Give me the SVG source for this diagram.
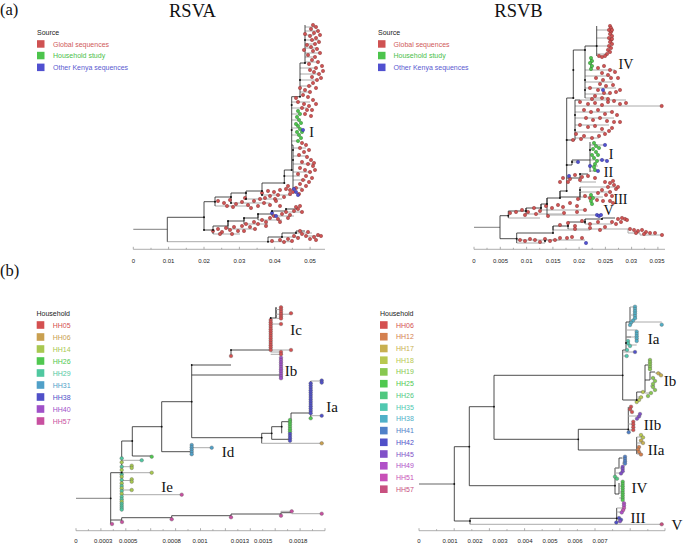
<svg xmlns="http://www.w3.org/2000/svg" width="685" height="543" viewBox="0 0 685 543">
<style>
.bg{fill:#fff}
.tt{font-family:"Liberation Serif","Times New Roman",serif;fill:#111}
.lg{font-family:"Liberation Sans",Arial,sans-serif;font-size:7px}
.ax{font-family:"Liberation Sans",Arial,sans-serif;font-size:6px;fill:#222;text-anchor:middle}
.axl{stroke:#999;stroke-width:0.8;fill:none}
.t{stroke:#222;stroke-width:0.8;fill:none}
.g{stroke:#aaa;stroke-width:1;fill:none}
.rt{stroke:#999;stroke-width:1.3;fill:none}
.n{fill:#111}
.R{fill:#cf5252;stroke:#7a2c2c;stroke-width:0.4}
.G{fill:#4cc44c;stroke:#2a702a;stroke-width:0.4}
.B{fill:#5050d0;stroke:#2a2a80;stroke-width:0.4}
.h05,.b06{fill:#d45050}.h06{fill:#c9a050}.h14{fill:#a8c850}.h26,.b25{fill:#50c850}.h29{fill:#50c8a0}.h31{fill:#50a0c8}.h38,.b42{fill:#5050c8}.h40{fill:#a050c8}.h57{fill:#c850a0}
.b12{fill:#d4804f}.b17{fill:#c8b050}.b18{fill:#b8c850}.b19{fill:#88c850}.b26{fill:#50c880}.b35{fill:#50c8b0}.b38{fill:#50b0c8}.b41{fill:#5080c8}.b45{fill:#8050c8}.b49{fill:#b050c8}.b51{fill:#c850b8}.b57{fill:#c85080}
.d circle{stroke:#555;stroke-width:0.35}
</style>
<rect class="bg" width="685" height="543"/>

<g id="titles">
<text class="tt" x="0" y="15" font-size="16.5">(a)</text>
<text class="tt" x="192.5" y="17" font-size="18.5" text-anchor="middle">RSVA</text>
<text class="tt" x="518.5" y="17" font-size="18.5" text-anchor="middle">RSVB</text>
<text class="tt" x="0" y="276" font-size="16.5">(b)</text>
</g>

<g id="legend-a-left" class="lg">
<text x="37" y="34.5" fill="#222">Source</text>
<rect x="37" y="40.2" width="7.5" height="7.5" fill="#cf5252"/><text x="53" y="46.5" fill="#d05a5a">Global sequences</text>
<rect x="37" y="51.8" width="7.5" height="7.5" fill="#4cc44c"/><text x="53" y="58.3" fill="#4ac04a">Household study</text>
<rect x="37" y="63.6" width="7.5" height="7.5" fill="#5050d0"/><text x="53" y="70" fill="#5a5ad0">Other Kenya sequences</text>
</g>
<g id="legend-a-right" class="lg">
<text x="378" y="34.5" fill="#222">Source</text>
<rect x="378" y="40.2" width="7.5" height="7.5" fill="#cf5252"/><text x="393.5" y="46.5" fill="#d05a5a">Global sequences</text>
<rect x="378" y="51.8" width="7.5" height="7.5" fill="#4cc44c"/><text x="393.5" y="58.3" fill="#4ac04a">Household study</text>
<rect x="378" y="63.6" width="7.5" height="7.5" fill="#5050d0"/><text x="393.5" y="70" fill="#5a5ad0">Other Kenya sequences</text>
</g>
<g id="legend-b-left" class="lg">
<text x="36.5" y="315.8" fill="#222">Household</text>
<rect x="36.7" y="321.2" width="7.6" height="7.6" class="h05"/><text x="52.7" y="327.5" class="h05">HH05</text>
<rect x="36.7" y="333.2" width="7.6" height="7.6" class="h06"/><text x="52.7" y="339.5" class="h06">HH06</text>
<rect x="36.7" y="345.2" width="7.6" height="7.6" class="h14"/><text x="52.7" y="351.5" class="h14">HH14</text>
<rect x="36.7" y="357.2" width="7.6" height="7.6" class="h26"/><text x="52.7" y="363.5" class="h26">HH26</text>
<rect x="36.7" y="369.2" width="7.6" height="7.6" class="h29"/><text x="52.7" y="375.5" class="h29">HH29</text>
<rect x="36.7" y="381.2" width="7.6" height="7.6" class="h31"/><text x="52.7" y="387.5" class="h31">HH31</text>
<rect x="36.7" y="393.2" width="7.6" height="7.6" class="h38"/><text x="52.7" y="399.5" class="h38">HH38</text>
<rect x="36.7" y="405.2" width="7.6" height="7.6" class="h40"/><text x="52.7" y="411.5" class="h40">HH40</text>
<rect x="36.7" y="417.2" width="7.6" height="7.6" class="h57"/><text x="52.7" y="423.5" class="h57">HH57</text>
</g>
<g id="legend-b-right" class="lg">
<text x="380" y="315.8" fill="#222">Household</text>
<rect x="380" y="321.2" width="7.6" height="7.6" class="b06"/><text x="396" y="327.5" class="b06">HH06</text>
<rect x="380" y="332.9" width="7.6" height="7.6" class="b12"/><text x="396" y="339.2" class="b12">HH12</text>
<rect x="380" y="344.7" width="7.6" height="7.6" class="b17"/><text x="396" y="351" class="b17">HH17</text>
<rect x="380" y="356.4" width="7.6" height="7.6" class="b18"/><text x="396" y="362.7" class="b18">HH18</text>
<rect x="380" y="368.1" width="7.6" height="7.6" class="b19"/><text x="396" y="374.4" class="b19">HH19</text>
<rect x="380" y="379.9" width="7.6" height="7.6" class="b25"/><text x="396" y="386.2" class="b25">HH25</text>
<rect x="380" y="391.6" width="7.6" height="7.6" class="b26"/><text x="396" y="397.9" class="b26">HH26</text>
<rect x="380" y="403.3" width="7.6" height="7.6" class="b35"/><text x="396" y="409.6" class="b35">HH35</text>
<rect x="380" y="415.0" width="7.6" height="7.6" class="b38"/><text x="396" y="421.3" class="b38">HH38</text>
<rect x="380" y="426.8" width="7.6" height="7.6" class="b41"/><text x="396" y="433.1" class="b41">HH41</text>
<rect x="380" y="438.5" width="7.6" height="7.6" class="b42"/><text x="396" y="444.8" class="b42">HH42</text>
<rect x="380" y="450.2" width="7.6" height="7.6" class="b45"/><text x="396" y="456.5" class="b45">HH45</text>
<rect x="380" y="462.0" width="7.6" height="7.6" class="b49"/><text x="396" y="468.3" class="b49">HH49</text>
<rect x="380" y="473.7" width="7.6" height="7.6" class="b51"/><text x="396" y="480" class="b51">HH51</text>
<rect x="380" y="485.4" width="7.6" height="7.6" class="b57"/><text x="396" y="491.7" class="b57">HH57</text>
</g>

<g id="axis-a-left">
<path class="axl" d="M133.3,249.3 H325 M133.3,249.3 v-2.5 M151,249.3 v-1.5 M168.6,249.3 v-2.5 M186.3,249.3 v-1.5 M204,249.3 v-2.5 M221.7,249.3 v-1.5 M239.4,249.3 v-2.5 M257.1,249.3 v-1.5 M274.7,249.3 v-2.5 M292.4,249.3 v-1.5 M310.1,249.3 v-2.5"/>
<text class="ax" x="133.3" y="263">0</text><text class="ax" x="168.6" y="263">0.01</text><text class="ax" x="204" y="263">0.02</text><text class="ax" x="239.4" y="263">0.03</text><text class="ax" x="274.8" y="263">0.04</text><text class="ax" x="310.1" y="263">0.05</text>
</g>
<g id="axis-a-right">
<path class="axl" d="M474,249.3 H665 M474,249.3 v-2.5 M487,249.3 v-1.5 M500.3,249.3 v-2.5 M513.4,249.3 v-1.5 M526.6,249.3 v-2.5 M539.7,249.3 v-1.5 M552.9,249.3 v-2.5 M566,249.3 v-1.5 M579.1,249.3 v-2.5 M592.2,249.3 v-1.5 M605.4,249.3 v-2.5 M618.5,249.3 v-1.5 M631.6,249.3 v-2.5 M644.7,249.3 v-1.5 M657.9,249.3 v-2.5"/>
<text class="ax" x="474" y="263">0</text><text class="ax" x="500.5" y="263">0.005</text><text class="ax" x="526.7" y="263">0.01</text><text class="ax" x="553.2" y="263">0.015</text><text class="ax" x="579.2" y="263">0.02</text><text class="ax" x="605.6" y="263">0.025</text><text class="ax" x="631.3" y="263">0.03</text><text class="ax" x="657" y="263">0.035</text>
</g>
<g id="axis-b-left">
<path class="axl" d="M76,530.7 H325 M76,530.7 v-2.5 M88.4,530.7 v-1.5 M100.9,530.7 v-2.5 M113.3,530.7 v-1.5 M125.8,530.7 v-2.5 M138.2,530.7 v-1.5 M150.7,530.7 v-2.5 M163.1,530.7 v-1.5 M175.6,530.7 v-2.5 M188,530.7 v-1.5 M200.5,530.7 v-2.5 M212.9,530.7 v-1.5 M225.4,530.7 v-2.5 M237.8,530.7 v-1.5 M250.3,530.7 v-2.5 M262.7,530.7 v-1.5 M275.2,530.7 v-2.5 M287.6,530.7 v-1.5 M300.1,530.7 v-2.5 M312.5,530.7 v-1.5 M325,530.7 v-2.5"/>
<text class="ax" x="76" y="542.5">0</text><text class="ax" x="103.3" y="542.5">0.0003</text><text class="ax" x="128.3" y="542.5">0.0005</text><text class="ax" x="171.7" y="542.5">0.0008</text><text class="ax" x="200" y="542.5">0.001</text><text class="ax" x="240" y="542.5">0.0013</text><text class="ax" x="263.3" y="542.5">0.0015</text><text class="ax" x="298.3" y="542.5">0.0018</text>
</g>
<g id="axis-b-right">
<path class="axl" d="M419,530.7 H665 M419,530.7 v-2.5 M436.6,530.7 v-1.5 M454.2,530.7 v-2.5 M471.8,530.7 v-1.5 M489.4,530.7 v-2.5 M507,530.7 v-1.5 M524.6,530.7 v-2.5 M542.2,530.7 v-1.5 M559.8,530.7 v-2.5 M577.4,530.7 v-1.5 M595,530.7 v-2.5 M612.6,530.7 v-1.5 M630.2,530.7 v-2.5 M647.8,530.7 v-1.5 M665,530.7 v-2.5"/>
<text class="ax" x="419" y="542.5">0</text><text class="ax" x="450" y="542.5">0.001</text><text class="ax" x="475" y="542.5">0.002</text><text class="ax" x="500" y="542.5">0.003</text><text class="ax" x="525" y="542.5">0.004</text><text class="ax" x="550" y="542.5">0.005</text><text class="ax" x="575" y="542.5">0.006</text><text class="ax" x="600" y="542.5">0.007</text>
</g>

<g id="connectors">
<path class="rt" d="M133.3,229.3 H167.3 M474,227.3 H500 M76,498.3 H110.7 M419,484 H454.3"/>
<path class="g" d="M167.3,241.7 H268 M268,241.7 H292 M282,237 H300 M296,233 H312 M305,236 H322 M213,234 H240 M228,229 H254 M244,224 H268 M258,220 H282 M272,216 H294 M286,212 H302 M215,206 H250 M231,203 H270 M246,199 H282 M262,195 H292 M284.3,176 H300 M293,188 H302 M293,180 H306 M293,172 H312 M293,164 H313 M293,156 H308 M293,148 H306 M291.7,141 H298 M291.7,135 H299 M291.7,128 H300 M291.7,120 H299 M291.7,114 H300 M291.7,108 H307 M291.7,102 H310 M300,92 H310 M300,86 H312 M300,80 H317 M300,74 H319 M300,68 H316 M305,62 H318 M305,57 H315 M305,53 H320 M305,48 H317 M305,44 H315 M305,40 H319 M305,35 H314 M305,31 H318 M305,27 H316"/>
<path class="t" d="M167.3,217.3 V241.7 M167.3,217.3 H204 M204,201.7 V230 M204,230 H213 M213,226 V234 M213,226 H228 V221 H244 V218 H258 V214 H272 V211 H286 V209 H298 M228,221 V229 M244,218 V224 M258,214 V220 M272,211 V216 M268,241.7 V237 H282 V233 H296 V231 H305 M204,201.7 H215 M215,197 V206 M215,197 H231 V193 H246 V191 H262 V183 H284.3 M231,197 V203 M246,193 V199 M262,191 V195 M284.3,170 V183 M284.3,170 H291.7 M291.7,96.7 V170 M293,145 V190 M291.7,145 H293 M291.7,96.7 H300 M300,63 V96.7 M300,63 H305 M305,25 V63"/>
<path class="g" d="M553,230 H590 M568,229 H628 V233 H640 V235 H662 M585,224 H612 M516.7,243 H545 V240 H585 M516.7,240 H560 M508.3,218 H540 M526,214 H562 M541,210 H585 M547,215 H600 M580,182 H596 M572,162 H578 M590,145 H605 M590,160 H607 M590,166 H598 M590,171 H598 M575,106 H662 M575,112 H612 M575,118 H614 M575,125 H609 M575,132 H605 M575,138 H599 M580,100 H626 M585,70 H615 M585,76 H611 M585,82 H613 M585,88 H616 M585,94 H610 M585,98 H608 M596.7,30 H611 M596.7,38 H611 M596.7,46 H611 M596.7,54 H607 M580,192 H612 M580,187 H616 M580,197 H603"/>
<path class="t" d="M500,215.7 V238.7 M500,238.7 H516.7 M516.7,233 V243 M516.7,233 H553 V226 H568 V222 H585 V219 H602 V218 H615 M553,226 V230 M568,222 V229 M585,219 V224 M500,215.7 H508.3 M508.3,211 V218 M508.3,211 H526 V208 H541 V204 H547 V198 H560 V191 H566.7 M526,208 V214 M541,204 V210 M547,198 V215 M560,191 V197 H580 V187 M580,192 V200 M566.7,98 V191 M566.7,178 H580 V174 H588 M566.7,165 H572 V160 H590 M590,142 V172 M566.7,140 H575 V100 M575,100 H580 M566.7,98 H573.3 M573.3,50 V98 M573.3,50 H585 M585,46 V98 M585,46 H596.7 M596.7,26 V56 M591,58 V68"/>
<path class="t" d="M110.7,472.7 V520 M110.7,472.7 H121.7 M121.7,441 V509.3 M121.7,441 H132.3 M132.3,426.7 V456 M132.3,426.7 H161.7 M161.7,401.7 V451.7 M161.7,401.7 H191.7 M191.7,365 V437.7 M191.7,365 H231 M231,350 V356 M231,350 H270.7 M270.7,318 V350 M270.7,318 H276 V307.3 M276,307.3 V318 M191.7,375 H281 M191.7,437.7 H261.7 M261.7,433.3 V443.3 M261.7,433.3 H271.7 M271.7,426.7 V439.3 M271.7,426.7 H281.7 M281.7,421.7 V433.3 M281.7,421.7 H291 M291,413 V421.7 M291,413 H310.7 M310.7,381 V418.3 M271.7,439.3 H290 M290,420 V441 M161.7,451.7 H191.7 M191.7,445 V454.2 M132.3,456 H151.7 M110.7,520 V524 M110.7,520 H121.7 M121.7,517.7 V522 M121.7,517.7 H171.7 M171.7,515.7 V519.3 M171.7,515.7 H231 M231,514 V517.3 M231,514 H281 M281,512.7 V515.7 M281,512.7 H291.7"/>
<path class="g" d="M276,309.6 H281 M276,314.2 H291 M276,318.3 H281 M270.7,324 H281 M270.7,350 H291 M270.7,352 H281 M270.7,354.3 H281 M281,357.3 V378 M310.7,381 H321.7 M310.7,415.7 H321.7 M261.7,443.3 H321.7 M191.7,447.7 H211.7 M121.7,460.3 H141.7 M121.7,466.7 H131.7 M121.7,472.7 H151.7 M121.7,480.5 H131.7 M121.7,490 H131.7 M121.7,494.7 H181.7 M281,512.7 V511.3 H291.7 M291.7,513.7 H321.7"/>
<path class="t" d="M454.3,446.7 V521 M454.3,446.7 H469.3 M469.3,406.7 V485.7 M469.3,406.7 H494 M494,375.3 V439.3 M494,375.3 H622.7 M622.7,350 V400 M622.7,350 H626 V322 H630 V307 M626,343 H629 M626,337 H631 M622.7,400 H636.7 M636.7,392 V402 M636.7,392 H645 V365 H648 M645,380 H650 V372 H655 M494,439.3 H578.3 M578.3,429.3 V450 M578.3,429.3 H628.3 M628.3,407 V432.3 M578.3,450 H636.7 M636.7,437 V454 M469.3,485.7 H615 M615,468 V494 M615,468 H619 V458 H622 M615,494 H619 V483 M454.3,521 H470 M470,518.3 V524.3 M470,518.3 H616.7 M616.7,508 V523"/>
<path class="g" d="M630,307 H635 M630,315 H635 M630,322 H661.7 M626,330 H636.7 M626,337 H636.7 M630,345 H636.7 M622.7,352 H635 M622.7,356 H627 M648,360 H650 M648,367 H650 M655,373 H661 M650,378 H655 M650,386 H655 M645,393 H652 M636.7,397 H643 M628.3,408 H632 M628.3,416 H640 M628.3,424 H633.3 M628.3,430 H633.3 M636.7,437 H643 M636.7,443 H643 M636.7,449 H640 M636.7,454 H641 M622,458 H625 M622,463 H625 M615,468 H622.7 M615,473 H621 M615,478 H617 M619,486 H622.7 M619,492 H622.7 M619,498 H622.7 M616.7,508 H624 M616.7,512 H621.7 M616.7,519 H621 M470,524.3 H661.7"/>
</g>

<g id="rsva-global">
<circle class="R" r="1.7" cx="313" cy="25"/><circle class="R" r="1.7" cx="316" cy="27"/><circle class="R" r="1.7" cx="311" cy="29"/><circle class="R" r="1.7" cx="318" cy="31"/><circle class="R" r="1.7" cx="314" cy="33"/><circle class="R" r="1.7" cx="310" cy="36"/><circle class="R" r="1.7" cx="316" cy="38"/><circle class="R" r="1.7" cx="312" cy="40"/><circle class="R" r="1.7" cx="319" cy="42"/><circle class="R" r="1.7" cx="315" cy="44"/><circle class="R" r="1.7" cx="311" cy="47"/><circle class="R" r="1.7" cx="317" cy="49"/><circle class="R" r="1.7" cx="313" cy="51"/><circle class="R" r="1.7" cx="320" cy="53"/><circle class="R" r="1.7" cx="308" cy="55"/><circle class="R" r="1.7" cx="315" cy="57"/><circle class="R" r="1.7" cx="312" cy="60"/><circle class="R" r="1.7" cx="318" cy="62"/><circle class="R" r="1.7" cx="322" cy="66"/><circle class="R" r="1.7" cx="316" cy="68"/><circle class="R" r="1.7" cx="310" cy="70"/><circle class="R" r="1.7" cx="314" cy="72"/><circle class="R" r="1.7" cx="319" cy="74"/><circle class="R" r="1.7" cx="321" cy="78"/><circle class="R" r="1.7" cx="317" cy="80"/><circle class="R" r="1.7" cx="313" cy="83"/><circle class="R" r="1.7" cx="309" cy="86"/><circle class="R" r="1.7" cx="316" cy="88"/><circle class="R" r="1.7" cx="305" cy="34"/><circle class="R" r="1.7" cx="307" cy="45"/><circle class="R" r="1.7" cx="309" cy="64"/><circle class="R" r="1.7" cx="312" cy="77"/><circle class="R" r="1.7" cx="320" cy="35"/><circle class="R" r="1.7" cx="304" cy="50"/><circle class="R" r="1.7" cx="323" cy="71"/>
<circle class="R" r="1.7" cx="300" cy="88"/><circle class="R" r="1.7" cx="305" cy="90"/><circle class="R" r="1.7" cx="310" cy="92"/><circle class="R" r="1.7" cx="303" cy="95"/><circle class="R" r="1.7" cx="308" cy="97"/><circle class="R" r="1.7" cx="313" cy="100"/><circle class="R" r="1.7" cx="298" cy="102"/><circle class="R" r="1.7" cx="304" cy="104"/><circle class="R" r="1.7" cx="309" cy="106"/><circle class="R" r="1.7" cx="302" cy="108"/><circle class="R" r="1.7" cx="307" cy="110"/><circle class="R" r="1.7" cx="305" cy="114"/><circle class="R" r="1.7" cx="311" cy="116"/><circle class="R" r="1.7" cx="296" cy="98"/><circle class="R" r="1.7" cx="316" cy="104"/><circle class="R" r="1.7" cx="312" cy="110"/>
<circle class="R" r="1.7" cx="302" cy="143"/><circle class="R" r="1.7" cx="306" cy="145"/><circle class="R" r="1.7" cx="300" cy="148"/><circle class="R" r="1.7" cx="309" cy="150"/><circle class="R" r="1.7" cx="304" cy="152"/><circle class="R" r="1.7" cx="299" cy="155"/><circle class="R" r="1.7" cx="307" cy="157"/><circle class="R" r="1.7" cx="311" cy="160"/><circle class="R" r="1.7" cx="302" cy="162"/><circle class="R" r="1.7" cx="308" cy="164"/><circle class="R" r="1.7" cx="313" cy="166"/><circle class="R" r="1.7" cx="300" cy="168"/><circle class="R" r="1.7" cx="305" cy="170"/><circle class="R" r="1.7" cx="310" cy="172"/><circle class="R" r="1.7" cx="298" cy="174"/><circle class="R" r="1.7" cx="306" cy="176"/><circle class="R" r="1.7" cx="312" cy="178"/><circle class="R" r="1.7" cx="303" cy="180"/><circle class="R" r="1.7" cx="309" cy="182"/><circle class="R" r="1.7" cx="300" cy="184"/><circle class="R" r="1.7" cx="306" cy="186"/><circle class="R" r="1.7" cx="296" cy="188"/><circle class="R" r="1.7" cx="302" cy="190"/><circle class="R" r="1.7" cx="293" cy="192"/><circle class="R" r="1.7" cx="299" cy="194"/><circle class="R" r="1.7" cx="314" cy="163"/><circle class="R" r="1.7" cx="315" cy="170"/><circle class="R" r="1.7" cx="288" cy="186"/><circle class="R" r="1.7" cx="290" cy="190"/>
<circle class="R" r="1.7" cx="262" cy="193"/><circle class="R" r="1.7" cx="268" cy="191"/><circle class="R" r="1.7" cx="274" cy="192"/><circle class="R" r="1.7" cx="280" cy="190"/><circle class="R" r="1.7" cx="286" cy="189"/><circle class="R" r="1.7" cx="290" cy="194"/><circle class="R" r="1.7" cx="270" cy="196"/><circle class="R" r="1.7" cx="278" cy="195"/><circle class="R" r="1.7" cx="284" cy="197"/><circle class="R" r="1.7" cx="265" cy="198"/><circle class="R" r="1.7" cx="275" cy="199"/>
<circle class="R" r="1.7" cx="218" cy="201"/><circle class="R" r="1.7" cx="224" cy="203"/><circle class="R" r="1.7" cx="230" cy="200"/><circle class="R" r="1.7" cx="236" cy="204"/><circle class="R" r="1.7" cx="242" cy="202"/><circle class="R" r="1.7" cx="248" cy="205"/><circle class="R" r="1.7" cx="254" cy="201"/><circle class="R" r="1.7" cx="258" cy="206"/><circle class="R" r="1.7" cx="264" cy="203"/><circle class="R" r="1.7" cx="270" cy="205"/><circle class="R" r="1.7" cx="276" cy="201"/><circle class="R" r="1.7" cx="280" cy="206"/><circle class="R" r="1.7" cx="227" cy="206"/><circle class="R" r="1.7" cx="245" cy="198"/><circle class="R" r="1.7" cx="260" cy="199"/><circle class="R" r="1.7" cx="233" cy="207"/><circle class="R" r="1.7" cx="251" cy="208"/>
<circle class="R" r="1.7" cx="213" cy="231"/><circle class="R" r="1.7" cx="218" cy="229"/><circle class="R" r="1.7" cx="222" cy="232"/><circle class="R" r="1.7" cx="226" cy="228"/><circle class="R" r="1.7" cx="230" cy="230"/><circle class="R" r="1.7" cx="234" cy="227"/><circle class="R" r="1.7" cx="238" cy="231"/><circle class="R" r="1.7" cx="242" cy="226"/><circle class="R" r="1.7" cx="246" cy="224"/><circle class="R" r="1.7" cx="250" cy="227"/><circle class="R" r="1.7" cx="254" cy="222"/><circle class="R" r="1.7" cx="258" cy="224"/><circle class="R" r="1.7" cx="262" cy="220"/><circle class="R" r="1.7" cx="266" cy="222"/><circle class="R" r="1.7" cx="270" cy="218"/><circle class="R" r="1.7" cx="274" cy="216"/><circle class="R" r="1.7" cx="278" cy="219"/><circle class="R" r="1.7" cx="282" cy="214"/><circle class="R" r="1.7" cx="286" cy="212"/><circle class="R" r="1.7" cx="290" cy="215"/><circle class="R" r="1.7" cx="294" cy="211"/><circle class="R" r="1.7" cx="298" cy="209"/><circle class="R" r="1.7" cx="302" cy="212"/><circle class="R" r="1.7" cx="288" cy="218"/><circle class="R" r="1.7" cx="255" cy="229"/><circle class="R" r="1.7" cx="244" cy="231"/><circle class="R" r="1.7" cx="232" cy="234"/><circle class="R" r="1.7" cx="220" cy="234"/><circle class="R" r="1.7" cx="266" cy="226"/><circle class="R" r="1.7" cx="280" cy="222"/><circle class="R" r="1.7" cx="296" cy="207"/><circle class="R" r="1.7" cx="300" cy="206"/>
<circle class="R" r="1.7" cx="272" cy="241"/><circle class="R" r="1.7" cx="280" cy="240"/><circle class="R" r="1.7" cx="288" cy="239"/><circle class="R" r="1.7" cx="294" cy="236"/><circle class="R" r="1.7" cx="298" cy="238"/><circle class="R" r="1.7" cx="302" cy="234"/><circle class="R" r="1.7" cx="306" cy="236"/><circle class="R" r="1.7" cx="310" cy="239"/><circle class="R" r="1.7" cx="314" cy="237"/><circle class="R" r="1.7" cx="318" cy="235"/><circle class="R" r="1.7" cx="321" cy="236"/><circle class="R" r="1.7" cx="300" cy="231"/><circle class="R" r="1.7" cx="308" cy="232"/><circle class="R" r="1.7" cx="284" cy="242"/><circle class="R" r="1.7" cx="316" cy="240"/><circle class="R" r="1.7" cx="292" cy="241"/>
</g>
<g id="rsva-household">
<circle class="G" r="1.7" cx="298" cy="111"/><circle class="G" r="1.7" cx="300" cy="114"/><circle class="G" r="1.7" cx="297" cy="117"/><circle class="G" r="1.7" cx="299" cy="120"/><circle class="G" r="1.7" cx="301" cy="123"/><circle class="G" r="1.7" cx="298" cy="126"/><circle class="G" r="1.7" cx="300" cy="129"/><circle class="G" r="1.7" cx="302" cy="132"/><circle class="G" r="1.7" cx="299" cy="135"/><circle class="G" r="1.7" cx="301" cy="138"/><circle class="G" r="1.7" cx="298" cy="141"/><circle class="G" r="1.7" cx="296" cy="124"/><circle class="G" r="1.7" cx="297" cy="132"/>
</g>
<g id="rsva-kenya">
<circle class="B" r="1.7" cx="303" cy="130"/><circle class="B" r="1.7" cx="296" cy="192"/><circle class="B" r="1.7" cx="294" cy="189"/><circle class="B" r="1.7" cx="298" cy="195"/><circle class="B" r="1.7" cx="276" cy="216"/><circle class="B" r="1.7" cx="272" cy="213"/>
</g>
<g id="rsva-nodes" class="n">
<circle r="1" cx="204" cy="217.3"/><circle r="1" cx="213" cy="230"/><circle r="1" cx="215" cy="201.7"/><circle r="1" cx="231" cy="197"/><circle r="1" cx="246" cy="193"/><circle r="1" cx="262" cy="191"/><circle r="1" cx="284.3" cy="183"/><circle r="1" cx="291.7" cy="170"/><circle r="1" cx="300" cy="96.7"/><circle r="1" cx="305" cy="63"/><circle r="1" cx="228" cy="221"/><circle r="1" cx="244" cy="218"/><circle r="1" cx="258" cy="214"/><circle r="1" cx="272" cy="211"/><circle r="1" cx="286" cy="209"/><circle r="1" cx="231" cy="203"/><circle r="1" cx="246" cy="199"/><circle r="1" cx="262" cy="195"/><circle r="1" cx="284.3" cy="176"/><circle r="1" cx="293" cy="150"/><circle r="1" cx="293" cy="160"/><circle r="1" cx="300" cy="80"/><circle r="1" cx="305" cy="40"/><circle r="1" cx="291.7" cy="105"/><circle r="1" cx="291.7" cy="130"/><circle r="1" cx="282" cy="237"/><circle r="1" cx="296" cy="233"/><circle r="1" cx="268" cy="241.7"/><circle r="1" cx="204" cy="230"/>
</g>

<g id="rsvb-global">
<circle class="R" r="1.7" cx="610" cy="26"/><circle class="R" r="1.7" cx="611" cy="28"/><circle class="R" r="1.7" cx="609" cy="30"/><circle class="R" r="1.7" cx="611" cy="32"/><circle class="R" r="1.7" cx="610" cy="34"/><circle class="R" r="1.7" cx="612" cy="36"/><circle class="R" r="1.7" cx="609" cy="38"/><circle class="R" r="1.7" cx="611" cy="40"/><circle class="R" r="1.7" cx="610" cy="42"/><circle class="R" r="1.7" cx="612" cy="44"/><circle class="R" r="1.7" cx="609" cy="46"/><circle class="R" r="1.7" cx="611" cy="48"/><circle class="R" r="1.7" cx="608" cy="50"/><circle class="R" r="1.7" cx="610" cy="52"/><circle class="R" r="1.7" cx="607" cy="54"/><circle class="R" r="1.7" cx="605" cy="56"/><circle class="R" r="1.7" cx="602" cy="57"/><circle class="R" r="1.7" cx="599" cy="56"/><circle class="R" r="1.7" cx="612" cy="30"/><circle class="R" r="1.7" cx="612" cy="39"/>
<circle class="R" r="1.7" cx="598" cy="68"/><circle class="R" r="1.7" cx="604" cy="66"/><circle class="R" r="1.7" cx="610" cy="70"/><circle class="R" r="1.7" cx="615" cy="72"/><circle class="R" r="1.7" cx="602" cy="73"/><circle class="R" r="1.7" cx="608" cy="75"/><circle class="R" r="1.7" cx="596" cy="78"/><circle class="R" r="1.7" cx="603" cy="80"/><circle class="R" r="1.7" cx="611" cy="78"/><circle class="R" r="1.7" cx="600" cy="84"/><circle class="R" r="1.7" cx="606" cy="86"/><circle class="R" r="1.7" cx="613" cy="85"/><circle class="R" r="1.7" cx="598" cy="90"/><circle class="R" r="1.7" cx="604" cy="93"/><circle class="R" r="1.7" cx="610" cy="93"/><circle class="R" r="1.7" cx="616" cy="92"/><circle class="R" r="1.7" cx="595" cy="96"/><circle class="R" r="1.7" cx="602" cy="98"/><circle class="R" r="1.7" cx="608" cy="99"/><circle class="R" r="1.7" cx="592" cy="99"/><circle class="R" r="1.7" cx="618" cy="78"/><circle class="R" r="1.7" cx="620" cy="90"/><circle class="R" r="1.7" cx="590" cy="88"/>
<circle class="R" r="1.7" cx="580" cy="102"/><circle class="R" r="1.7" cx="588" cy="104"/><circle class="R" r="1.7" cx="595" cy="103"/><circle class="R" r="1.7" cx="602" cy="105"/><circle class="R" r="1.7" cx="608" cy="102"/><circle class="R" r="1.7" cx="614" cy="101"/><circle class="R" r="1.7" cx="620" cy="104"/><circle class="R" r="1.7" cx="626" cy="103"/><circle class="R" r="1.7" cx="661.7" cy="106"/><circle class="R" r="1.7" cx="584" cy="110"/><circle class="R" r="1.7" cx="591" cy="112"/><circle class="R" r="1.7" cx="598" cy="110"/><circle class="R" r="1.7" cx="605" cy="114"/><circle class="R" r="1.7" cx="612" cy="112"/><circle class="R" r="1.7" cx="586" cy="118"/><circle class="R" r="1.7" cx="593" cy="120"/><circle class="R" r="1.7" cx="600" cy="118"/><circle class="R" r="1.7" cx="607" cy="121"/><circle class="R" r="1.7" cx="614" cy="122"/><circle class="R" r="1.7" cx="580" cy="125"/><circle class="R" r="1.7" cx="588" cy="127"/><circle class="R" r="1.7" cx="595" cy="126"/><circle class="R" r="1.7" cx="602" cy="129"/><circle class="R" r="1.7" cx="609" cy="131"/><circle class="R" r="1.7" cx="576" cy="134"/><circle class="R" r="1.7" cx="584" cy="136"/><circle class="R" r="1.7" cx="592" cy="138"/><circle class="R" r="1.7" cx="599" cy="136"/><circle class="R" r="1.7" cx="573" cy="140"/><circle class="R" r="1.7" cx="581" cy="139"/><circle class="R" r="1.7" cx="617" cy="115"/><circle class="R" r="1.7" cx="620" cy="122"/><circle class="R" r="1.7" cx="612" cy="128"/><circle class="R" r="1.7" cx="605" cy="134"/>
<circle class="R" r="1.7" cx="575" cy="175"/><circle class="R" r="1.7" cx="582" cy="177"/><circle class="R" r="1.7" cx="588" cy="176"/><circle class="R" r="1.7" cx="595" cy="178"/><circle class="R" r="1.7" cx="570" cy="179"/><circle class="R" r="1.7" cx="563" cy="178"/><circle class="R" r="1.7" cx="568" cy="182"/><circle class="R" r="1.7" cx="580" cy="180"/><circle class="R" r="1.7" cx="560" cy="182"/>
<circle class="R" r="1.7" cx="605" cy="182"/><circle class="R" r="1.7" cx="610" cy="183"/><circle class="R" r="1.7" cx="614" cy="185"/><circle class="R" r="1.7" cx="608" cy="187"/><circle class="R" r="1.7" cx="616" cy="189"/><circle class="R" r="1.7" cx="602" cy="190"/><circle class="R" r="1.7" cx="610" cy="192"/><circle class="R" r="1.7" cx="606" cy="195"/><circle class="R" r="1.7" cx="612" cy="196"/><circle class="R" r="1.7" cx="598" cy="193"/><circle class="R" r="1.7" cx="590" cy="198"/><circle class="R" r="1.7" cx="597" cy="200"/><circle class="R" r="1.7" cx="603" cy="201"/><circle class="R" r="1.7" cx="585" cy="196"/><circle class="R" r="1.7" cx="578" cy="199"/><circle class="R" r="1.7" cx="610" cy="201"/><circle class="R" r="1.7" cx="613" cy="203"/><circle class="R" r="1.7" cx="618" cy="187"/><circle class="R" r="1.7" cx="613" cy="181"/>
<circle class="R" r="1.7" cx="510" cy="213"/><circle class="R" r="1.7" cx="516" cy="212"/><circle class="R" r="1.7" cx="522" cy="210"/><circle class="R" r="1.7" cx="528" cy="212"/><circle class="R" r="1.7" cx="534" cy="208"/><circle class="R" r="1.7" cx="540" cy="211"/><circle class="R" r="1.7" cx="546" cy="206"/><circle class="R" r="1.7" cx="552" cy="208"/><circle class="R" r="1.7" cx="558" cy="205"/><circle class="R" r="1.7" cx="563" cy="207"/><circle class="R" r="1.7" cx="570" cy="203"/><circle class="R" r="1.7" cx="577" cy="206"/><circle class="R" r="1.7" cx="536" cy="214"/><circle class="R" r="1.7" cx="525" cy="215"/><circle class="R" r="1.7" cx="564" cy="213"/><circle class="R" r="1.7" cx="548" cy="216"/><circle class="R" r="1.7" cx="585" cy="210"/><circle class="R" r="1.7" cx="577" cy="212"/>
<circle class="R" r="1.7" cx="560" cy="225"/><circle class="R" r="1.7" cx="568" cy="223"/><circle class="R" r="1.7" cx="575" cy="226"/><circle class="R" r="1.7" cx="582" cy="221"/><circle class="R" r="1.7" cx="590" cy="224"/><circle class="R" r="1.7" cx="598" cy="222"/><circle class="R" r="1.7" cx="605" cy="227"/><circle class="R" r="1.7" cx="612" cy="222"/><circle class="R" r="1.7" cx="618" cy="219"/><circle class="R" r="1.7" cx="622" cy="218"/><circle class="R" r="1.7" cx="625" cy="219"/><circle class="R" r="1.7" cx="627" cy="220"/><circle class="R" r="1.7" cx="600" cy="230"/><circle class="R" r="1.7" cx="590" cy="228"/><circle class="R" r="1.7" cx="575" cy="229"/><circle class="R" r="1.7" cx="621" cy="222"/><circle class="R" r="1.7" cx="616" cy="224"/>
<circle class="R" r="1.7" cx="630" cy="229"/><circle class="R" r="1.7" cx="634" cy="230"/><circle class="R" r="1.7" cx="638" cy="231"/><circle class="R" r="1.7" cx="642" cy="230"/><circle class="R" r="1.7" cx="646" cy="232"/><circle class="R" r="1.7" cx="650" cy="233"/><circle class="R" r="1.7" cx="655" cy="233"/><circle class="R" r="1.7" cx="662" cy="235"/><circle class="R" r="1.7" cx="636" cy="233"/><circle class="R" r="1.7" cx="644" cy="234"/>
<circle class="R" r="1.7" cx="525" cy="241"/><circle class="R" r="1.7" cx="530" cy="239"/><circle class="R" r="1.7" cx="535" cy="240"/><circle class="R" r="1.7" cx="540" cy="242"/><circle class="R" r="1.7" cx="545" cy="239"/><circle class="R" r="1.7" cx="550" cy="241"/><circle class="R" r="1.7" cx="555" cy="240"/><circle class="R" r="1.7" cx="560" cy="238"/><circle class="R" r="1.7" cx="567" cy="238"/><circle class="R" r="1.7" cx="572" cy="237"/><circle class="R" r="1.7" cx="582" cy="238"/><circle class="R" r="1.7" cx="520" cy="240"/>
</g>
<g id="rsvb-household">
<circle class="G" r="1.7" cx="591" cy="58"/><circle class="G" r="1.7" cx="592" cy="61"/><circle class="G" r="1.7" cx="590" cy="63"/><circle class="G" r="1.7" cx="592" cy="66"/><circle class="G" r="1.7" cx="591" cy="69"/>
<circle class="G" r="1.7" cx="594" cy="143"/><circle class="G" r="1.7" cx="596" cy="146"/><circle class="G" r="1.7" cx="593" cy="149"/><circle class="G" r="1.7" cx="596" cy="152"/><circle class="G" r="1.7" cx="598" cy="155"/><circle class="G" r="1.7" cx="594" cy="158"/><circle class="G" r="1.7" cx="597" cy="161"/><circle class="G" r="1.7" cx="595" cy="164"/><circle class="G" r="1.7" cx="594" cy="167"/><circle class="G" r="1.7" cx="595" cy="170"/><circle class="G" r="1.7" cx="592" cy="155"/><circle class="G" r="1.7" cx="599" cy="148"/>
<circle class="G" r="1.7" cx="591" cy="195"/><circle class="G" r="1.7" cx="593" cy="198"/><circle class="G" r="1.7" cx="591" cy="201"/><circle class="G" r="1.7" cx="592" cy="204"/>
</g>
<g id="rsvb-kenya">
<circle class="B" r="1.7" cx="603" cy="90"/><circle class="B" r="1.7" cx="605" cy="145"/><circle class="B" r="1.7" cx="602" cy="160"/><circle class="B" r="1.7" cx="607" cy="161"/><circle class="B" r="1.7" cx="578" cy="162"/><circle class="B" r="1.7" cx="590" cy="166"/><circle class="B" r="1.7" cx="598" cy="171"/><circle class="B" r="1.7" cx="569" cy="176"/><circle class="B" r="1.7" cx="597" cy="215"/><circle class="B" r="1.7" cx="599" cy="216"/><circle class="B" r="1.7" cx="601" cy="215"/><circle class="B" r="1.7" cx="586" cy="243"/>
</g>
<g id="rsvb-nodes" class="n">
<circle r="1" cx="508.3" cy="215.7"/><circle r="1" cx="526" cy="211"/><circle r="1" cx="541" cy="208"/><circle r="1" cx="547" cy="204"/><circle r="1" cx="560" cy="198"/><circle r="1" cx="566.7" cy="191"/><circle r="1" cx="566.7" cy="140"/><circle r="1" cx="566.7" cy="165"/><circle r="1" cx="573.3" cy="98"/><circle r="1" cx="585" cy="50"/><circle r="1" cx="596.7" cy="46"/><circle r="1" cx="575" cy="130"/><circle r="1" cx="575" cy="115"/><circle r="1" cx="590" cy="150"/><circle r="1" cx="553" cy="233"/><circle r="1" cx="568" cy="226"/><circle r="1" cx="585" cy="222"/><circle r="1" cx="602" cy="219"/><circle r="1" cx="516.7" cy="238.7"/><circle r="1" cx="580" cy="174"/><circle r="1" cx="572" cy="162"/><circle r="1" cx="580" cy="190"/><circle r="1" cx="545" cy="241"/><circle r="1" cx="585" cy="80"/><circle r="1" cx="585" cy="90"/><circle r="1" cx="573.3" cy="70"/>
</g>

<g id="b-left-Ic" class="d">
<circle class="h05" r="1.8" cx="270.7" cy="320"/><circle class="h05" r="1.8" cx="270.7" cy="322.3"/><circle class="h05" r="1.8" cx="270.7" cy="324.6"/><circle class="h05" r="1.8" cx="270.7" cy="326.9"/><circle class="h05" r="1.8" cx="270.7" cy="329.2"/><circle class="h05" r="1.8" cx="270.7" cy="331.5"/><circle class="h05" r="1.8" cx="270.7" cy="333.8"/><circle class="h05" r="1.8" cx="270.7" cy="336.1"/><circle class="h05" r="1.8" cx="270.7" cy="338.4"/><circle class="h05" r="1.8" cx="270.7" cy="340.7"/><circle class="h05" r="1.8" cx="270.7" cy="343"/><circle class="h05" r="1.8" cx="270.7" cy="345.3"/><circle class="h05" r="1.8" cx="270.7" cy="347.6"/><circle class="h05" r="1.8" cx="270.7" cy="350"/>
<circle class="h05" r="1.8" cx="281" cy="307.3"/><circle class="h05" r="1.8" cx="281" cy="309.6"/><circle class="h05" r="1.8" cx="281" cy="311.9"/><circle class="h05" r="1.8" cx="281" cy="314.2"/><circle class="h05" r="1.8" cx="281" cy="316.5"/><circle class="h05" r="1.8" cx="281" cy="318.5"/><circle class="h05" r="1.8" cx="281" cy="324"/><circle class="h05" r="1.8" cx="291" cy="313.3"/><circle class="h05" r="1.8" cx="291" cy="350"/><circle class="h05" r="1.8" cx="281" cy="352"/><circle class="h05" r="1.8" cx="281" cy="354.3"/><circle class="h05" r="1.8" cx="231" cy="356"/>
</g>
<g id="b-left-Ib" class="d">
<circle class="h40" r="1.8" cx="281" cy="357.8"/><circle class="h40" r="1.8" cx="281" cy="360.1"/><circle class="h40" r="1.8" cx="281" cy="362.4"/><circle class="h40" r="1.8" cx="281" cy="364.7"/><circle class="h40" r="1.8" cx="281" cy="367"/><circle class="h40" r="1.8" cx="281" cy="369.3"/><circle class="h40" r="1.8" cx="281" cy="371.6"/><circle class="h40" r="1.8" cx="281" cy="373.9"/><circle class="h40" r="1.8" cx="281" cy="376.2"/><circle class="h40" r="1.8" cx="281" cy="378.3"/>
</g>
<g id="b-left-Ia" class="d">
<circle class="h38" r="1.8" cx="321.7" cy="380.5"/><circle class="h38" r="1.8" cx="321.7" cy="382.6"/><circle class="h38" r="1.8" cx="310.7" cy="383.3"/><circle class="h38" r="1.8" cx="310.7" cy="385.6"/><circle class="h38" r="1.8" cx="310.7" cy="387.9"/><circle class="h38" r="1.8" cx="310.7" cy="390.2"/><circle class="h38" r="1.8" cx="310.7" cy="392.5"/><circle class="h38" r="1.8" cx="310.7" cy="394.8"/><circle class="h38" r="1.8" cx="310.7" cy="397.1"/><circle class="h38" r="1.8" cx="310.7" cy="399.4"/><circle class="h38" r="1.8" cx="310.7" cy="401.7"/><circle class="h38" r="1.8" cx="310.7" cy="404"/><circle class="h38" r="1.8" cx="310.7" cy="406.3"/><circle class="h38" r="1.8" cx="310.7" cy="408.6"/><circle class="h38" r="1.8" cx="310.7" cy="410.9"/><circle class="h38" r="1.8" cx="310.7" cy="413.2"/><circle class="h38" r="1.8" cx="321.7" cy="415.7"/><circle class="h26" r="1.8" cx="310.7" cy="418.3"/>
<circle class="h26" r="1.8" cx="290" cy="420"/><circle class="h26" r="1.8" cx="290" cy="422.3"/><circle class="h26" r="1.8" cx="290" cy="424.6"/><circle class="h26" r="1.8" cx="290" cy="426.9"/><circle class="h26" r="1.8" cx="290" cy="429.2"/><circle class="h26" r="1.8" cx="290" cy="431.5"/><circle class="h38" r="1.8" cx="290" cy="433.8"/><circle class="h38" r="1.8" cx="290" cy="436.1"/><circle class="h38" r="1.8" cx="290" cy="438.4"/><circle class="h38" r="1.8" cx="290" cy="440.7"/><circle class="h06" r="1.8" cx="321.7" cy="443.3"/>
</g>
<g id="b-left-Id" class="d">
<circle class="h31" r="1.8" cx="191.7" cy="445"/><circle class="h31" r="1.8" cx="191.7" cy="447.3"/><circle class="h31" r="1.8" cx="191.7" cy="449.6"/><circle class="h31" r="1.8" cx="191.7" cy="451.9"/><circle class="h31" r="1.8" cx="191.7" cy="454.2"/><circle class="h31" r="1.8" cx="211.7" cy="447.7"/><circle class="h26" r="1.8" cx="151.7" cy="456.7"/>
</g>
<g id="b-left-Ie" class="d">
<circle class="h29" r="1.8" cx="121.7" cy="458.3"/><circle class="h14" r="1.8" cx="121.7" cy="462.3"/><circle class="h29" r="1.8" cx="121.7" cy="466.7"/><circle class="h14" r="1.8" cx="121.7" cy="470"/><circle class="h29" r="1.8" cx="121.7" cy="474.3"/><circle class="h14" r="1.8" cx="121.7" cy="476.7"/><circle class="h29" r="1.8" cx="121.7" cy="480"/><circle class="h14" r="1.8" cx="121.7" cy="483.3"/><circle class="h29" r="1.8" cx="121.7" cy="486"/><circle class="h14" r="1.8" cx="121.7" cy="488.3"/><circle class="h29" r="1.8" cx="121.7" cy="491"/><circle class="h14" r="1.8" cx="121.7" cy="493.7"/><circle class="h29" r="1.8" cx="121.7" cy="496.7"/><circle class="h29" r="1.8" cx="121.7" cy="499.3"/><circle class="h14" r="1.8" cx="121.7" cy="501.5"/><circle class="h29" r="1.8" cx="121.7" cy="503.6"/><circle class="h29" r="1.8" cx="121.7" cy="505.7"/><circle class="h29" r="1.8" cx="121.7" cy="507.7"/><circle class="h29" r="1.8" cx="121.7" cy="509.6"/>
<circle class="h29" r="1.8" cx="141.7" cy="460.3"/><circle class="h14" r="1.8" cx="131.7" cy="465.7"/><circle class="h14" r="1.8" cx="131.7" cy="467.9"/><circle class="h14" r="1.8" cx="151.7" cy="472.7"/><circle class="h14" r="1.8" cx="131.7" cy="479.3"/><circle class="h14" r="1.8" cx="131.7" cy="481.7"/><circle class="h14" r="1.8" cx="131.7" cy="490"/><circle class="h57" r="1.8" cx="181.7" cy="494.7"/>
</g>
<g id="b-left-base" class="d">
<circle class="h57" r="1.8" cx="112" cy="524"/><circle class="h57" r="1.8" cx="122" cy="522"/><circle class="h57" r="1.8" cx="171.7" cy="519.3"/><circle class="h57" r="1.8" cx="231" cy="517.3"/><circle class="h57" r="1.8" cx="281" cy="515.7"/><circle class="h57" r="1.8" cx="291.7" cy="511.3"/><circle class="h57" r="1.8" cx="321.7" cy="513.7"/>
</g>
<g id="b-left-nodes" class="n">
<circle r="0.9" cx="132.3" cy="441"/><circle r="0.9" cx="161.7" cy="426.7"/><circle r="0.9" cx="191.7" cy="401.7"/><circle r="0.9" cx="191.7" cy="365"/><circle r="0.9" cx="231" cy="350"/><circle r="0.9" cx="261.7" cy="437.7"/><circle r="0.9" cx="271.7" cy="433.3"/><circle r="0.9" cx="281.7" cy="426.7"/><circle r="0.9" cx="110.7" cy="498.3"/><circle r="0.9" cx="121.7" cy="472.7"/><circle r="0.9" cx="270.7" cy="318"/>
</g>

<g id="b-right-Ia" class="d">
<circle class="b38" r="1.8" cx="635" cy="306.7"/><circle class="b38" r="1.8" cx="635" cy="309"/><circle class="b38" r="1.8" cx="635" cy="311.3"/><circle class="b38" r="1.8" cx="635" cy="313.6"/><circle class="b38" r="1.8" cx="635" cy="316"/><circle class="b38" r="1.8" cx="635" cy="318.3"/><circle class="b38" r="1.8" cx="633" cy="320.6"/><circle class="b38" r="1.8" cx="631" cy="322.7"/><circle class="b38" r="1.8" cx="630" cy="325"/><circle class="b38" r="1.8" cx="661.7" cy="324.7"/><circle class="b38" r="1.8" cx="636.7" cy="331.7"/><circle class="b38" r="1.8" cx="636.7" cy="334"/><circle class="b38" r="1.8" cx="636.7" cy="336.3"/><circle class="b38" r="1.8" cx="636.7" cy="338.6"/><circle class="b38" r="1.8" cx="636.7" cy="341"/><circle class="b35" r="1.8" cx="628" cy="341"/><circle class="b35" r="1.8" cx="628" cy="343.5"/><circle class="b35" r="1.8" cx="630" cy="346"/><circle class="b42" r="1.8" cx="635" cy="352"/><circle class="b35" r="1.8" cx="627" cy="350"/><circle class="b35" r="1.8" cx="626.7" cy="356"/>
</g>
<g id="b-right-Ib" class="d">
<circle class="b19" r="1.8" cx="650" cy="360"/><circle class="b19" r="1.8" cx="650" cy="362.3"/><circle class="b19" r="1.8" cx="650" cy="364.6"/><circle class="b19" r="1.8" cx="650" cy="366.9"/><circle class="b19" r="1.8" cx="650" cy="369.2"/><circle class="b17" r="1.8" cx="658.3" cy="373.3"/><circle class="b17" r="1.8" cx="661" cy="375.3"/><circle class="b19" r="1.8" cx="653" cy="378"/><circle class="b19" r="1.8" cx="655" cy="381"/><circle class="b19" r="1.8" cx="653" cy="384"/><circle class="b19" r="1.8" cx="653" cy="387"/><circle class="b19" r="1.8" cx="655" cy="390"/><circle class="b19" r="1.8" cx="651" cy="393"/><circle class="b19" r="1.8" cx="648" cy="396"/><circle class="b18" r="1.8" cx="643" cy="392"/><circle class="b18" r="1.8" cx="641" cy="397.3"/><circle class="b18" r="1.8" cx="639" cy="400"/><circle class="b18" r="1.8" cx="636.7" cy="402"/>
</g>
<g id="b-right-IIb" class="d">
<circle class="b06" r="1.8" cx="631" cy="406.7"/><circle class="b06" r="1.8" cx="630" cy="409.3"/><circle class="b06" r="1.8" cx="632" cy="412"/><circle class="b45" r="1.8" cx="640" cy="414"/><circle class="b45" r="1.8" cx="639" cy="416.5"/><circle class="b45" r="1.8" cx="637" cy="418.7"/><circle class="b06" r="1.8" cx="633.3" cy="421.7"/><circle class="b06" r="1.8" cx="633.3" cy="424.4"/><circle class="b06" r="1.8" cx="633.3" cy="427.2"/><circle class="b06" r="1.8" cx="633.3" cy="430"/><circle class="b41" r="1.8" cx="628.7" cy="432.3"/>
</g>
<g id="b-right-IIa" class="d">
<circle class="b18" r="1.8" cx="641" cy="435"/><circle class="b18" r="1.8" cx="643" cy="437.5"/><circle class="b17" r="1.8" cx="641" cy="440.5"/><circle class="b17" r="1.8" cx="643" cy="443"/><circle class="b12" r="1.8" cx="639" cy="447"/><circle class="b12" r="1.8" cx="638" cy="449.5"/><circle class="b12" r="1.8" cx="639" cy="452"/><circle class="b12" r="1.8" cx="641" cy="454.5"/>
</g>
<g id="b-right-IV" class="d">
<circle class="b41" r="1.8" cx="625" cy="456.7"/><circle class="b41" r="1.8" cx="625" cy="459"/><circle class="b41" r="1.8" cx="625" cy="461.3"/><circle class="b41" r="1.8" cx="625" cy="463.6"/><circle class="b45" r="1.8" cx="622.7" cy="466.7"/><circle class="b45" r="1.8" cx="622.7" cy="469"/><circle class="b45" r="1.8" cx="622.7" cy="471.3"/><circle class="b45" r="1.8" cx="621" cy="473.5"/><circle class="b26" r="1.8" cx="615" cy="476.7"/><circle class="b26" r="1.8" cx="617" cy="478.7"/><circle class="b25" r="1.8" cx="622.7" cy="481.7"/><circle class="b25" r="1.8" cx="622.7" cy="484"/><circle class="b25" r="1.8" cx="622.7" cy="486.3"/><circle class="b25" r="1.8" cx="622.7" cy="488.6"/><circle class="b25" r="1.8" cx="622.7" cy="490.9"/><circle class="b25" r="1.8" cx="622.7" cy="493.2"/><circle class="b25" r="1.8" cx="622.7" cy="495.5"/><circle class="b25" r="1.8" cx="622.7" cy="497.8"/><circle class="b25" r="1.8" cx="622.7" cy="500"/>
</g>
<g id="b-right-III" class="d">
<circle class="b49" r="1.8" cx="624" cy="503.3"/><circle class="b49" r="1.8" cx="624" cy="505.6"/><circle class="b51" r="1.8" cx="624" cy="508"/><circle class="b51" r="1.8" cx="623" cy="510.3"/><circle class="b49" r="1.8" cx="621.7" cy="512.5"/><circle class="b42" r="1.8" cx="619" cy="518"/><circle class="b42" r="1.8" cx="621" cy="519.8"/><circle class="b45" r="1.8" cx="620" cy="521.3"/><circle class="b42" r="1.8" cx="616.3" cy="522.5"/>
</g>
<g id="b-right-V" class="d">
<circle class="b57" r="1.8" cx="661.7" cy="524.3"/>
</g>
<g id="b-right-nodes" class="n">
<circle r="0.9" cx="469.3" cy="446.7"/><circle r="0.9" cx="494" cy="406.7"/><circle r="0.9" cx="622.7" cy="375.3"/><circle r="0.9" cx="578.3" cy="439.3"/><circle r="0.9" cx="615" cy="485.7"/><circle r="0.9" cx="470" cy="521"/><circle r="0.9" cx="626" cy="343"/><circle r="0.9" cx="636.7" cy="400"/><circle r="0.9" cx="628.3" cy="429.3"/><circle r="0.9" cx="616.7" cy="518.3"/><circle r="0.9" cx="454.3" cy="484"/>
</g>

<g id="clade-labels" class="tt">
<text x="311.5" y="136.5" font-size="14" text-anchor="middle">I</text>
<text x="626" y="68.5" font-size="14" text-anchor="middle">IV</text>
<text x="611" y="159" font-size="14" text-anchor="middle">I</text>
<text x="608.5" y="176.5" font-size="14" text-anchor="middle">II</text>
<text x="620.5" y="203.5" font-size="14" text-anchor="middle">III</text>
<text x="608.5" y="215" font-size="14" text-anchor="middle">V</text>
<text x="296" y="334.5" font-size="15" text-anchor="middle">Ic</text>
<text x="291" y="375.5" font-size="15" text-anchor="middle">Ib</text>
<text x="332" y="412" font-size="15" text-anchor="middle">Ia</text>
<text x="228" y="457" font-size="15" text-anchor="middle">Id</text>
<text x="167" y="491.5" font-size="15" text-anchor="middle">Ie</text>
<text x="653.5" y="343.5" font-size="15" text-anchor="middle">Ia</text>
<text x="670" y="385.5" font-size="15" text-anchor="middle">Ib</text>
<text x="652.5" y="429.5" font-size="15" text-anchor="middle">IIb</text>
<text x="656" y="454.5" font-size="15" text-anchor="middle">IIa</text>
<text x="639.5" y="492.5" font-size="15" text-anchor="middle">IV</text>
<text x="638" y="522.5" font-size="15" text-anchor="middle">III</text>
<text x="677" y="529.5" font-size="15" text-anchor="middle">V</text>
</g>
</svg>
